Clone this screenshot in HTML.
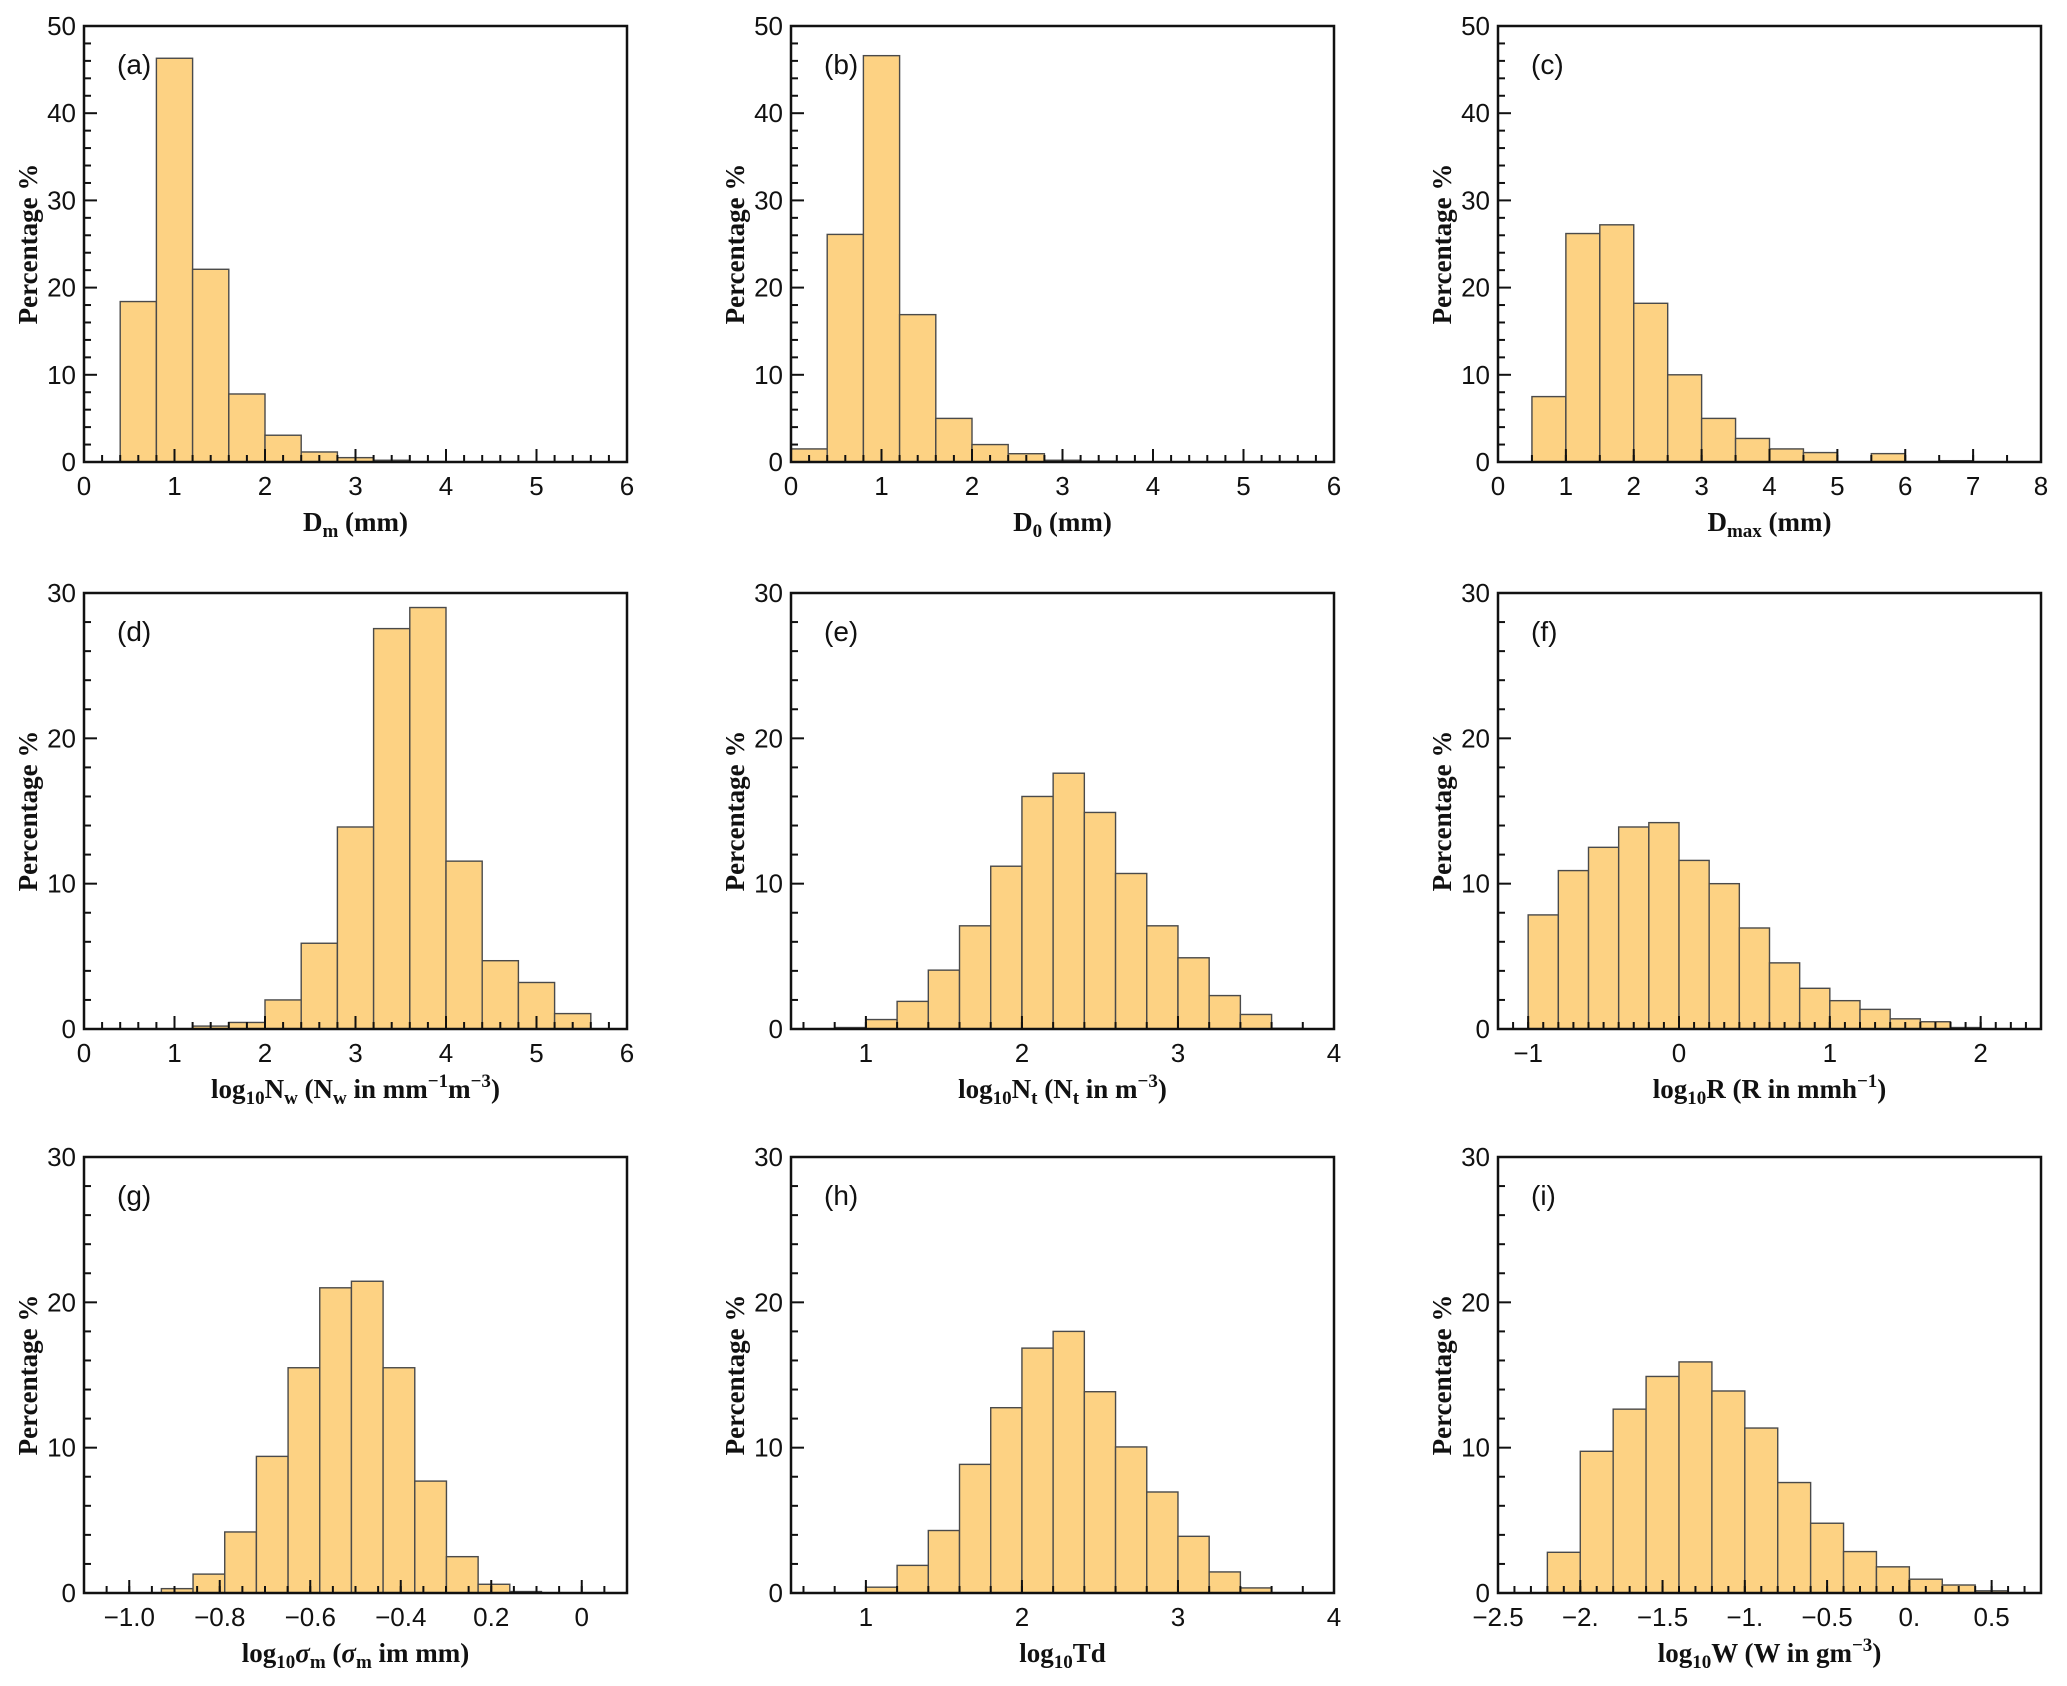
<!DOCTYPE html>
<html><head><meta charset="utf-8">
<style>
html,body{margin:0;padding:0;background:#fff;}
svg{display:block;}
.tick{font-family:"Liberation Sans",sans-serif;font-size:26px;fill:#111;}
.ttl{font-family:"Liberation Serif",serif;font-size:27px;font-weight:bold;fill:#111;}
.plab{font-family:"Liberation Sans",sans-serif;font-size:28px;fill:#111;}
</style></head>
<body>
<svg id="fig" width="2067" height="1686" viewBox="0 0 2067 1686" xmlns="http://www.w3.org/2000/svg"></svg>
<script>
// ---- data ----
const dmStart = 0.4, dmWidth = 0.4;
const dmValues = [18.4, 46.3, 22.1, 7.8, 3.07, 1.15, 0.5, 0.2, 0.05];
const d0Start = 0.0, d0Width = 0.4;
const d0Values = [1.5, 26.1, 46.6, 16.9, 5.0, 2.0, 0.95, 0.2, 0.1];
const dmaxStart = 0.5, dmaxWidth = 0.5;
const dmaxValues = [7.5, 26.2, 27.2, 18.2, 10.0, 5.0, 2.7, 1.5, 1.08, 0, 0.96, 0, 0.15];
const nwStart = 1.2, nwWidth = 0.4;
const nwValues = [0.2, 0.45, 2.0, 5.9, 13.9, 27.55, 29.0, 11.55, 4.7, 3.2, 1.06];
const ntStart = 0.8, ntWidth = 0.2;
const ntValues = [0.1, 0.65, 1.9, 4.05, 7.1, 11.2, 16.0, 17.6, 14.9, 10.7, 7.1, 4.9, 2.3, 1.0, 0.05];
const rStart = -1.0, rWidth = 0.2;
const rValues = [7.85, 10.9, 12.5, 13.9, 14.2, 11.6, 10.0, 6.95, 4.55, 2.8, 1.95, 1.35, 0.7, 0.5, 0.1];
const sigStart = -0.929, sigWidth = 0.07;
const sigValues = [0.3, 1.3, 4.2, 9.4, 15.5, 21.0, 21.45, 15.5, 7.7, 2.5, 0.6, 0.1];
const tdStart = 1.0, tdWidth = 0.2;
const tdValues = [0.4, 1.9, 4.3, 8.85, 12.75, 16.85, 18.0, 13.85, 10.05, 6.95, 3.9, 1.45, 0.35];
const wStart = -2.2, wWidth = 0.2;
const wValues = [2.8, 9.75, 12.65, 14.9, 15.9, 13.9, 11.35, 7.6, 4.8, 2.85, 1.8, 0.95, 0.55, 0.15];

const xTicks06 = [0,1,2,3,4,5,6];
const xTicks08 = [0,1,2,3,4,5,6,7,8];
const xTicks14 = [1,2,3,4];
const xTicksR = [-1,0,1,2];
const xTicksSig = [-1.0,-0.8,-0.6,-0.4,-0.2,0];
const xLabelsSig = ["\u22121.0","\u22120.8","\u22120.6","\u22120.4","0.2","0"];
const xTicksW = [-2.5,-2.0,-1.5,-1.0,-0.5,0,0.5];
const xLabelsW = ["\u22122.5","\u22122.","\u22121.5","\u22121.","\u22120.5","0.","0.5"];
const yTicks50 = [0,10,20,30,40,50];
const yTicks30 = [0,10,20,30];

// ---- layout ----
const colX = [84, 791, 1498], rowY = [26, 593, 1157], PW = 543, PH = 436;
const NS = "http://www.w3.org/2000/svg";
const svg = document.getElementById('fig');

function mk(tag, attrs, parent){
  const e = document.createElementNS(NS, tag);
  for (const k in attrs) e.setAttribute(k, attrs[k]);
  (parent||svg).appendChild(e);
  return e;
}
function fmt(v){ return v < 0 ? "\u2212" + Math.abs(v) : String(v); }
function rich(el, s){
  const re = /([_^*])\{([^}]*)\}|([^_^*]+)/g; let m;
  while ((m = re.exec(s))){
    const t = document.createElementNS(NS,'tspan');
    if (m[3]) { t.textContent = m[3]; }
    else {
      t.textContent = m[2];
      if (m[1]==='_'){ t.setAttribute('font-size','19'); t.setAttribute('dy','6'); el.appendChild(t);
        const r = document.createElementNS(NS,'tspan'); r.setAttribute('dy','-6'); r.textContent='\u200b'; el.appendChild(r); continue; }
      if (m[1]==='^'){ t.setAttribute('font-size','19'); t.setAttribute('dy','-11'); el.appendChild(t);
        const r = document.createElementNS(NS,'tspan'); r.setAttribute('dy','11'); r.textContent='\u200b'; el.appendChild(r); continue; }
      if (m[1]==='*'){ t.setAttribute('font-style','italic'); }
    }
    el.appendChild(t);
  }
}

const panels = [
 {id:'a', c:0, r:0, x0:0, x1:6, y1:50, start:dmStart, w:dmWidth, vals:dmValues, xt:xTicks06, minorX:0.2, yt:yTicks50, title:"D_{m} (mm)"},
 {id:'b', c:1, r:0, x0:0, x1:6, y1:50, start:d0Start, w:d0Width, vals:d0Values, xt:xTicks06, minorX:0.2, yt:yTicks50, title:"D_{0} (mm)"},
 {id:'c', c:2, r:0, x0:0, x1:8, y1:50, start:dmaxStart, w:dmaxWidth, vals:dmaxValues, xt:xTicks08, minorX:0.5, yt:yTicks50, title:"D_{max}  (mm)"},
 {id:'d', c:0, r:1, x0:0, x1:6, y1:30, start:nwStart, w:nwWidth, vals:nwValues, xt:xTicks06, minorX:0.2, yt:yTicks30, title:"log_{10}N_{w} (N_{w} in mm^{\u22121}m^{\u22123})"},
 {id:'e', c:1, r:1, x0:0.52, x1:4, y1:30, start:ntStart, w:ntWidth, vals:ntValues, xt:xTicks14, minorX:0.2, yt:yTicks30, title:"log_{10}N_{t} (N_{t} in m^{\u22123})"},
 {id:'f', c:2, r:1, x0:-1.2, x1:2.4, y1:30, start:rStart, w:rWidth, vals:rValues, xt:xTicksR, minorX:0.1, yt:yTicks30, title:"log_{10}R (R in mmh^{\u22121})"},
 {id:'g', c:0, r:2, x0:-1.1, x1:0.1, y1:30, start:sigStart, w:sigWidth, vals:sigValues, xt:xTicksSig, xl:xLabelsSig, minorX:0.05, yt:yTicks30, title:"log_{10}*{\u03c3}_{m} (*{\u03c3}_{m} im mm)"},
 {id:'h', c:1, r:2, x0:0.52, x1:4, y1:30, start:tdStart, w:tdWidth, vals:tdValues, xt:xTicks14, minorX:0.2, yt:yTicks30, title:"log_{10}Td"},
 {id:'i', c:2, r:2, x0:-2.5, x1:0.8, y1:30, start:wStart, w:wWidth, vals:wValues, xt:xTicksW, xl:xLabelsW, minorX:0.1, yt:yTicks30, title:"log_{10}W (W in gm^{\u22123})"}
];

panels.forEach(p => {
  const L = colX[p.c], T = rowY[p.r];
  const xs = v => L + (v - p.x0) / (p.x1 - p.x0) * PW;
  const ys = v => T + PH - v / p.y1 * PH;
  const g = mk('g', {});
  
  
  p.vals.forEach((v, i) => {
    if (v <= 0) return;
    const a = xs(p.start + i * p.w), b = xs(p.start + (i + 1) * p.w);
    const rect = mk('rect', {x:a, y:ys(v), width:b-a, height:ys(0)-ys(v), fill:'#fdd283', stroke:'#4a4a4a', 'stroke-width':1.4}, g);
    
    
  });
  const first = Math.ceil((p.x0 - 1e-9) / p.minorX);
  for (let k = first; k * p.minorX <= p.x1 + 1e-9; k++){
    const v = k * p.minorX, x = xs(v);
    mk('line', {x1:x, x2:x, y1:T+PH, y2:T+PH-7, stroke:'#111', 'stroke-width':2}, g);
  }
  p.xt.forEach((v, i) => {
    const x = xs(v);
    mk('line', {x1:x, x2:x, y1:T+PH, y2:T+PH-13, stroke:'#111', 'stroke-width':2}, g);
    const t = mk('text', {x:x, y:T+PH+33, 'text-anchor':'middle', class:'tick'}, g);
    t.textContent = p.xl ? p.xl[i] : fmt(v);
    
    
  });
  for (let v = 0; v <= p.y1; v += 2){
    const y = ys(v), major = v % 10 === 0;
    mk('line', {x1:L, x2:L + (major ? 13 : 7), y1:y, y2:y, stroke:'#111', 'stroke-width':2}, g);
  }
  p.yt.forEach(v => {
    const t = mk('text', {x:L-8, y:ys(v)+9, 'text-anchor':'end', class:'tick'}, g);
    t.textContent = String(v);
    
    
  });
  const fr = mk('rect', {x:L, y:T, width:PW, height:PH, fill:'none', stroke:'#111', 'stroke-width':2.5}, g);
  
  
  const pl = mk('text', {x:L+33, y:T+48, class:'plab'}, g);
  pl.textContent = '(' + p.id + ')';
  
  
  const xt = mk('text', {x:L+PW/2, y:T+PH+69, 'text-anchor':'middle', class:'ttl'}, g);
  rich(xt, p.title);
  
  
  const cy = T + PH/2, cx = L - 47;
  const yt = mk('text', {x:cx, y:cy, 'text-anchor':'middle', class:'ttl', transform:'rotate(-90 '+cx+' '+cy+')'}, g);
  yt.textContent = 'Percentage %';
  
  
});
</script>
</body></html>
